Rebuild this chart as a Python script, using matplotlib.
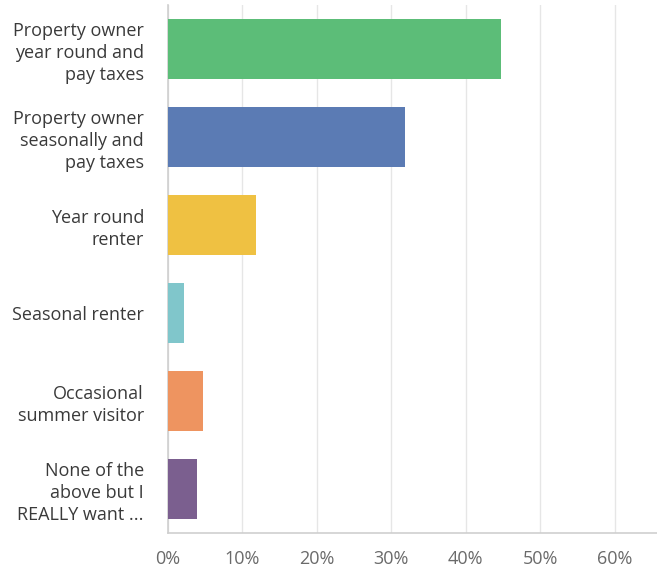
import matplotlib.pyplot as plt
from matplotlib.ticker import FuncFormatter

# survey answers, top to bottom
categories = [
    "Property owner\nyear round and\npay taxes",
    "Property owner\nseasonally and\npay taxes",
    "Year round\nrenter",
    "Seasonal renter",
    "Occasional\nsummer visitor",
    "None of the\nabove but I\nREALLY want ...",
]
percents = [44.7, 31.9, 11.9, 2.2, 4.8, 4.0]
colors = ["#5cbd78", "#5b7bb4", "#efc142", "#80c6cb", "#ee9460", "#7b5f8f"]
xticks = [0, 10, 20, 30, 40, 50, 60]

plt.rcParams['font.family'] = ['Open Sans', 'DejaVu Sans']

fig = plt.figure(figsize=(6.57, 5.68), dpi=100)
ax = fig.add_axes([0.255, 0.0616, 0.745, 0.929])

ypos = list(range(len(categories)))
ax.barh(ypos, percents, height=0.68, color=colors, zorder=3)

ax.set_ylim(len(categories) - 0.5, -0.5)
ax.set_xlim(0, 65.7)
ax.set_yticks(ypos)
ax.set_yticklabels(categories, fontsize=13, color="#3a3a3a", linespacing=1.28)
ax.set_xticks(xticks)
ax.xaxis.set_major_formatter(FuncFormatter(lambda v, p: f"{v:.0f}%"))
ax.tick_params(axis='x', labelsize=13, labelcolor="#6a6a6a", length=0, pad=12)
ax.tick_params(axis='y', length=0, pad=17)

ax.grid(axis='x', color="#e6e6e6", linewidth=1, zorder=0)
for s in ['top', 'right']:
    ax.spines[s].set_visible(False)
ax.spines['left'].set_color("#cfcfcf")
ax.spines['bottom'].set_color("#cfcfcf")
ax.spines['left'].set_linewidth(1.2)
ax.spines['bottom'].set_linewidth(1.2)

fig.savefig("out.png", dpi=100)
